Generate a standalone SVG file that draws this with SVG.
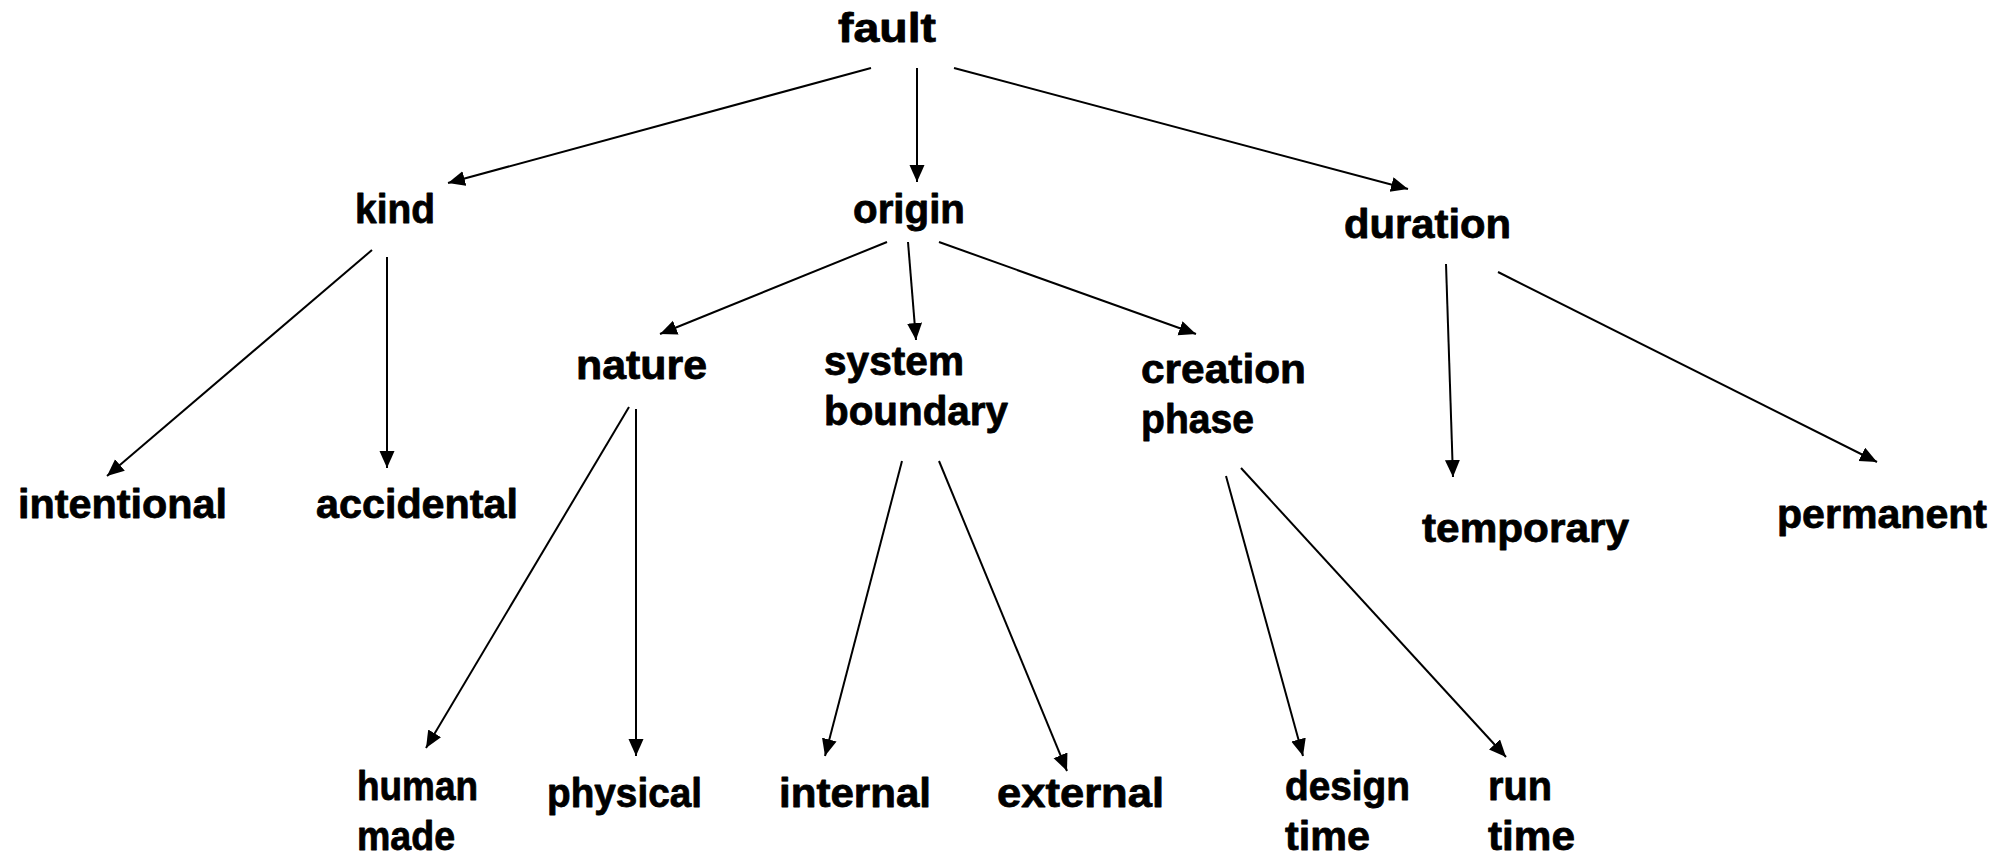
<svg xmlns="http://www.w3.org/2000/svg" width="2006" height="855" viewBox="0 0 2006 855">
  <defs>
    <marker id="arrow" markerUnits="userSpaceOnUse" markerWidth="18" markerHeight="16" refX="17" refY="7.5" orient="auto">
      <path d="M0,0 L17,7.5 L0,15 Z" fill="#000"/>
    </marker>
    <style>
      .lbl { font-family: "Liberation Sans", Arial, sans-serif; font-weight: bold; font-size: 41px; fill: #000; stroke: #000; stroke-width: 0.8px; stroke-linejoin: round; }
      .edge { stroke: #000; stroke-width: 2; fill: none; marker-end: url(#arrow); }
    </style>
  </defs>
  <rect width="2006" height="855" fill="#fff"/>

  <!-- connectors -->
  <g id="connectors">
    <line class="edge" x1="871" y1="68" x2="448" y2="183"/>
    <line class="edge" x1="917" y1="68" x2="917" y2="182"/>
    <line class="edge" x1="954" y1="68" x2="1408" y2="189"/>
    <line class="edge" x1="372" y1="250" x2="107" y2="476"/>
    <line class="edge" x1="387" y1="257" x2="387" y2="468"/>
    <line class="edge" x1="887" y1="242" x2="660" y2="334"/>
    <line class="edge" x1="908" y1="242" x2="916" y2="340"/>
    <line class="edge" x1="939" y1="242" x2="1196" y2="334"/>
    <line class="edge" x1="629" y1="407" x2="426" y2="748"/>
    <line class="edge" x1="636" y1="409" x2="636" y2="756"/>
    <line class="edge" x1="902" y1="461" x2="825" y2="756"/>
    <line class="edge" x1="939" y1="461" x2="1067" y2="771"/>
    <line class="edge" x1="1226" y1="476" x2="1303" y2="756"/>
    <line class="edge" x1="1241" y1="468" x2="1506" y2="757"/>
    <line class="edge" x1="1446" y1="264" x2="1453" y2="477"/>
    <line class="edge" x1="1498" y1="272" x2="1877" y2="462"/>
  </g>

  <!-- nodes -->
  <g id="fault"><text class="lbl" x="838" y="42" textLength="98" lengthAdjust="spacingAndGlyphs">fault</text></g>
  <g id="kind"><text class="lbl" x="355" y="223" textLength="80" lengthAdjust="spacingAndGlyphs">kind</text></g>
  <g id="origin"><text class="lbl" x="853" y="223" textLength="112" lengthAdjust="spacingAndGlyphs">origin</text></g>
  <g id="duration"><text class="lbl" x="1344" y="238" textLength="167" lengthAdjust="spacingAndGlyphs">duration</text></g>
  <g id="intentional"><text class="lbl" x="18" y="518" textLength="209" lengthAdjust="spacingAndGlyphs">intentional</text></g>
  <g id="accidental"><text class="lbl" x="316" y="518" textLength="202" lengthAdjust="spacingAndGlyphs">accidental</text></g>
  <g id="nature"><text class="lbl" x="576" y="379" textLength="131" lengthAdjust="spacingAndGlyphs">nature</text></g>
  <g id="system-boundary">
    <text class="lbl" x="824" y="375" textLength="140" lengthAdjust="spacingAndGlyphs">system</text>
    <text class="lbl" x="824" y="425" textLength="184" lengthAdjust="spacingAndGlyphs">boundary</text>
  </g>
  <g id="creation-phase">
    <text class="lbl" x="1141" y="383" textLength="165" lengthAdjust="spacingAndGlyphs">creation</text>
    <text class="lbl" x="1141" y="433" textLength="113" lengthAdjust="spacingAndGlyphs">phase</text>
  </g>
  <g id="temporary"><text class="lbl" x="1422" y="542" textLength="207" lengthAdjust="spacingAndGlyphs">temporary</text></g>
  <g id="permanent"><text class="lbl" x="1777" y="528" textLength="210" lengthAdjust="spacingAndGlyphs">permanent</text></g>
  <g id="human-made">
    <text class="lbl" x="357" y="800" textLength="121" lengthAdjust="spacingAndGlyphs">human</text>
    <text class="lbl" x="357" y="850" textLength="98" lengthAdjust="spacingAndGlyphs">made</text>
  </g>
  <g id="physical"><text class="lbl" x="547" y="807" textLength="155" lengthAdjust="spacingAndGlyphs">physical</text></g>
  <g id="internal"><text class="lbl" x="779" y="807" textLength="152" lengthAdjust="spacingAndGlyphs">internal</text></g>
  <g id="external"><text class="lbl" x="997" y="807" textLength="167" lengthAdjust="spacingAndGlyphs">external</text></g>
  <g id="design-time">
    <text class="lbl" x="1285" y="800" textLength="125" lengthAdjust="spacingAndGlyphs">design</text>
    <text class="lbl" x="1285" y="850" textLength="85" lengthAdjust="spacingAndGlyphs">time</text>
  </g>
  <g id="run-time">
    <text class="lbl" x="1488" y="800" textLength="64" lengthAdjust="spacingAndGlyphs">run</text>
    <text class="lbl" x="1488" y="850" textLength="87" lengthAdjust="spacingAndGlyphs">time</text>
  </g>
</svg>
